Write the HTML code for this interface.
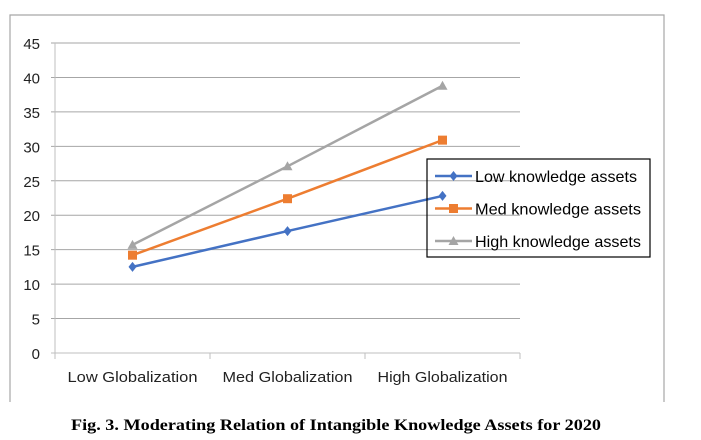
<!DOCTYPE html>
<html><head><meta charset="utf-8"><style>
body{margin:0;background:#fff;width:701px;height:440px;overflow:hidden}
svg{display:block;font-family:"Liberation Sans",sans-serif}
</style></head><body>
<svg width="701" height="440">
<path d="M10 402 V15 H664 V402" fill="none" stroke="#a6a6a6" stroke-width="1.2"/>
<g id="grid"></g>
<g id="yl"></g>
<g id="xl"></g>
<g id="series"></g>
<g id="legend">
<rect x="427" y="159" width="223" height="98" fill="none" stroke="#000" stroke-width="1.2"/>
</g>
<text x="336" y="430" text-anchor="middle" font-family="Liberation Serif,serif" font-weight="bold" font-size="16" textLength="530" lengthAdjust="spacingAndGlyphs">Fig. 3. Moderating Relation of Intangible Knowledge Assets for 2020</text>
</svg>
<script>
const categories=["Low Globalization","Med Globalization","High Globalization"];
const lowVals=[12.5,17.7,22.8];
const medVals=[14.2,22.4,30.9];
const highVals=[15.7,27.1,38.8];
const yTicks=[0,5,10,15,20,25,30,35,40,45];
const seriesNames=["Low knowledge assets","Med knowledge assets","High knowledge assets"];
const NS="http://www.w3.org/2000/svg";
const X0=55,X1=520,Y0=353,Y1=43,YMAX=45;
const y=v=>Y0-(v/YMAX)*(Y0-Y1);
const band=(X1-X0)/categories.length;
const x=i=>X0+band*(i+0.5);
function mk(tag,attrs,parent){const e=document.createElementNS(NS,tag);for(const k in attrs)e.setAttribute(k,attrs[k]);parent.appendChild(e);return e;}
const grid=document.getElementById('grid'),yl=document.getElementById('yl'),xl=document.getElementById('xl'),ser=document.getElementById('series'),leg=document.getElementById('legend');
yTicks.forEach(t=>{
 const l=mk('line',{x1:X0-4,x2:X1,y1:y(t),y2:y(t),stroke:t===0?'#bfbfbf':'#a6a6a6','stroke-width':1},grid);
 
 
 const tx=mk('text',{x:40,y:y(t)+6,'text-anchor':'end','font-size':15,fill:'#222'},yl);
 tx.textContent=t;
 
 
});
mk('line',{x1:X0,x2:X0,y1:Y1,y2:Y0+6,stroke:'#bfbfbf'},grid);
for(let i=0;i<=categories.length;i++){mk('line',{x1:X0+band*i,x2:X0+band*i,y1:Y0,y2:Y0+6,stroke:'#bfbfbf'},grid);}
categories.forEach((c,i)=>{
 const tx=mk('text',{x:x(i),y:382,'text-anchor':'middle','font-size':15,fill:'#222',textLength:130,lengthAdjust:'spacingAndGlyphs'},xl);
 tx.textContent=c;
 
 
});
const colors=['#4472c4','#ed7d31','#a5a5a5'];
const data=[lowVals,medVals,highVals];
function marker(k,cx,cy,g){
 if(k===0)return mk('path',{d:`M${cx} ${cy-5}L${cx+4} ${cy}L${cx} ${cy+5}L${cx-4} ${cy}Z`,fill:colors[k]},g);
 if(k===1)return mk('rect',{x:cx-4.5,y:cy-4.5,width:9,height:9,fill:colors[k]},g);
 return mk('path',{d:`M${cx} ${cy-5}L${cx+5} ${cy+4}L${cx-5} ${cy+4}Z`,fill:colors[k]},g);
}
data.forEach((vals,k)=>{
 const g=mk('g',{},ser);
 
 
 const p=mk('polyline',{points:vals.map((v,i)=>x(i)+','+y(v)).join(' '),fill:'none',stroke:colors[k],'stroke-width':2.5},g);
 
 
 vals.forEach((v,i)=>{const m=marker(k,x(i),y(v),g);
  
  });
 const ly=176+k*32.5;
 const lg=mk('g',{},leg);
 
 
 mk('line',{x1:435,x2:472,y1:ly,y2:ly,stroke:colors[k],'stroke-width':2.5},lg);
 marker(k,453.5,ly,lg);
 const t=mk('text',{x:475,y:ly+6,'font-size':16,fill:'#000',textLength:k===0?162:166,lengthAdjust:'spacingAndGlyphs'},lg);
 t.textContent=seriesNames[k];
});
</script>
</body></html>
